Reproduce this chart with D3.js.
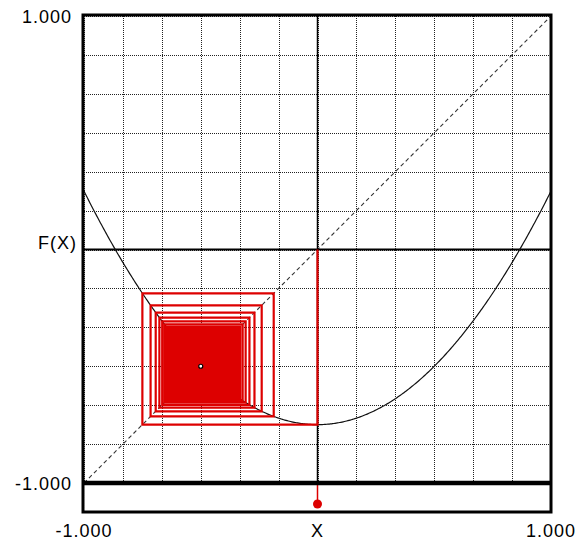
<!doctype html>
<html lang="en">
<head>
<meta charset="utf-8">
<title>Cobweb</title>
<script src="https://d3js.org/d3.v7.min.js"></script>
<style>
  body { margin: 0; background: #fff; }
  text { font-family: "Liberation Sans", Arial, sans-serif; font-size: 18px; letter-spacing: 1px; fill: #000; }
</style>
</head>
<body>
<div id="chart"></div>
<script>

// map parameters: F(x) = x^2 + c, orbit starting at x0
var c = -0.75;
var x0 = 0;
var iterations = 20000;

// axis range and grid
var domainX = [-1, 1];
var domainY = [-1, 1];
var gridCount = 12;
var leftLabels = ["1.000", "F(X)", "-1.000"];
var leftLabelValues = [1, 0, -1];
var bottomLabels = ["-1.000", "X", "1.000"];
var bottomLabelValues = [-1, 0, 1];

var width = 582;
var height = 541;

var svg = d3.select("#chart").append("svg")
    .attr("width", width)
    .attr("height", height);

var x = d3.scaleLinear().domain(domainX).range([84, 551]);
var y = d3.scaleLinear().domain(domainY).range([483, 16]);

function F(v) { return v * v + c; }

// dotted grid
var gridX = d3.range(gridCount + 1).map(function(i) { return domainX[0] + i * (domainX[1] - domainX[0]) / gridCount; });
var gridY = d3.range(gridCount + 1).map(function(i) { return domainY[0] + i * (domainY[1] - domainY[0]) / gridCount; });

svg.append("g").selectAll("line").data(gridX).enter().append("line")
    .attr("x1", function(d) { return Math.round(x(d)) + 0.5; })
    .attr("x2", function(d) { return Math.round(x(d)) + 0.5; })
    .attr("y1", y(1)).attr("y2", y(-1))
    .attr("stroke", "#222").attr("stroke-dasharray", "1,1")
    .attr("shape-rendering", "crispEdges");

svg.append("g").selectAll("line").data(gridY).enter().append("line")
    .attr("y1", function(d) { return Math.round(y(d)) + 0.5; })
    .attr("y2", function(d) { return Math.round(y(d)) + 0.5; })
    .attr("x1", x(-1)).attr("x2", x(1))
    .attr("stroke", "#222").attr("stroke-dasharray", "1,1")
    .attr("shape-rendering", "crispEdges");

// diagonal y = x
svg.append("line")
    .attr("x1", x(-1)).attr("y1", y(-1))
    .attr("x2", x(1)).attr("y2", y(1))
    .attr("stroke", "#333").attr("stroke-width", 1.1)
    .attr("stroke-dasharray", "4,3");

// axes through zero
svg.append("line")
    .attr("x1", x(-1)).attr("x2", x(1))
    .attr("y1", y(0)).attr("y2", y(0))
    .attr("stroke", "#000").attr("stroke-width", 2);
svg.append("line")
    .attr("x1", x(0)).attr("x2", x(0))
    .attr("y1", y(1)).attr("y2", y(-1))
    .attr("stroke", "#000").attr("stroke-width", 1.5);

// parabola
var curveX = d3.range(0, 401).map(function(i) { return -1 + i / 200; });
svg.append("path")
    .datum(curveX)
    .attr("fill", "none")
    .attr("stroke", "#111").attr("stroke-width", 1.2)
    .attr("d", d3.line().x(function(d) { return x(d); }).y(function(d) { return y(F(d)); }));

// cobweb
var pts = [[x0, 0]];
var xn = x0;
for (var i = 0; i < iterations; i++) {
    var xn1 = F(xn);
    pts.push([xn, xn1]);
    pts.push([xn1, xn1]);
    xn = xn1;
}
svg.append("path")
    .datum(pts)
    .attr("fill", "none")
    .attr("stroke", "#dd0000").attr("stroke-width", 2.2)
    .attr("d", d3.line().x(function(d) { return x(d[0]); }).y(function(d) { return y(d[1]); }));

// fixed point
var fixed = (1 - Math.sqrt(1 - 4 * c)) / 2;
svg.append("circle")
    .attr("cx", x(fixed)).attr("cy", y(fixed)).attr("r", 2)
    .attr("fill", "#fff").attr("stroke", "#000").attr("stroke-width", 1.2);

// starting value marker under the plot
svg.append("line")
    .attr("x1", x(x0)).attr("x2", x(x0))
    .attr("y1", y(-1)).attr("y2", 504)
    .attr("stroke", "#dd0000").attr("stroke-width", 1.5);
svg.append("circle")
    .attr("cx", x(x0)).attr("cy", 504).attr("r", 4.5)
    .attr("fill", "#dd0000");

// frame
svg.append("rect")
    .attr("x", 83).attr("y", 15)
    .attr("width", 468).attr("height", 497)
    .attr("fill", "none").attr("stroke", "#000").attr("stroke-width", 3);
svg.append("line")
    .attr("x1", 83).attr("x2", 551)
    .attr("y1", y(-1)).attr("y2", y(-1))
    .attr("stroke", "#000").attr("stroke-width", 4.5);

// labels (the axis name sits a little further right than the numbers)
svg.append("g").selectAll("text").data(leftLabels).enter().append("text")
    .attr("x", function(d, i) { return leftLabelValues[i] === 0 ? 77 : 72; })
    .attr("y", function(d, i) { return y(leftLabelValues[i]) + (leftLabelValues[i] === 0 ? -1 : 7); })
    .attr("text-anchor", "end")
    .text(function(d) { return d; });

svg.append("g").selectAll("text").data(bottomLabels).enter().append("text")
    .attr("x", function(d, i) { return x(bottomLabelValues[i]); })
    .attr("y", 537)
    .attr("text-anchor", "middle")
    .text(function(d) { return d; });

</script>
</body>
</html>
